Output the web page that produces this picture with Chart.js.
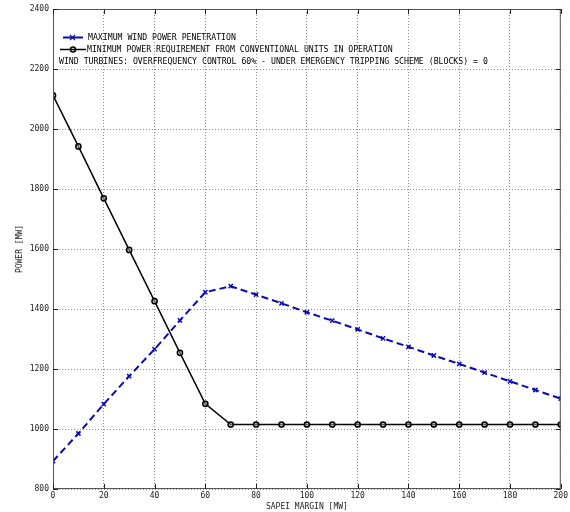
<!DOCTYPE html>
<html>
<head>
<meta charset="utf-8">
<script src="https://cdn.jsdelivr.net/npm/chart.js@4"></script>
<style>
  html, body { margin: 0; padding: 0; background: #fff; }
  #wrap { width: 570px; height: 512px; }
</style>
</head>
<body>
<div id="wrap"><canvas id="windChart" width="570" height="512"></canvas></div>
<script>
// SAPEI margin [MW]
const sapeiMargin = [0, 10, 20, 30, 40, 50, 60, 70, 80, 90, 100, 110, 120, 130, 140, 150, 160, 170, 180, 190, 200]
// power [MW]
const maxWindPower = [893, 985, 1083, 1176, 1266, 1362, 1456, 1476, 1448, 1419, 1389, 1361, 1332, 1302, 1274, 1245, 1217, 1188, 1159, 1130, 1101]
const minConvPower = [2112, 1942, 1769, 1597, 1426, 1254, 1084, 1015, 1015, 1015, 1015, 1015, 1015, 1015, 1015, 1015, 1015, 1015, 1015, 1015, 1015]
const xTicks = [0, 20, 40, 60, 80, 100, 120, 140, 160, 180, 200]
const yTicks = [800, 1000, 1200, 1400, 1600, 1800, 2000, 2200, 2400]

const legendLabels = ['MAXIMUM WIND POWER PENETRATION',
    'MINIMUM POWER REQUIREMENT FROM CONVENTIONAL UNITS IN OPERATION']
const noteText = 'WIND TURBINES: OVERFREQUENCY CONTROL 60% - UNDER EMERGENCY TRIPPING SCHEME (BLOCKS) = 0'

const BLUE = '#0a0ab4'
const FONT = "'DejaVu Sans Mono', monospace"

function toPoints(xs, ys) {
    return xs.map((x, i) => ({ x: x, y: ys[i] }))
}

// frame around the plot with inward tick marks, like matlab
const framePlugin = {
    id: 'frame',
    afterDraw(chart) {
        const ctx = chart.ctx
        const a = chart.chartArea
        const xs = chart.scales.x
        const ys = chart.scales.y
        ctx.save()
        ctx.strokeStyle = '#555'
        ctx.lineWidth = 1
        ctx.strokeRect(a.left + 0.5, a.top + 0.5, a.right - a.left - 1, a.bottom - a.top - 1)
        ctx.strokeStyle = '#222'
        ctx.beginPath()
        xTicks.forEach(v => {
            const px = Math.round(xs.getPixelForValue(v)) + 0.5
            ctx.moveTo(px, a.bottom); ctx.lineTo(px, a.bottom - 5)
            ctx.moveTo(px, a.top); ctx.lineTo(px, a.top + 5)
        })
        yTicks.forEach(v => {
            const py = Math.round(ys.getPixelForValue(v)) + 0.5
            ctx.moveTo(a.left, py); ctx.lineTo(a.left + 5, py)
            ctx.moveTo(a.right, py); ctx.lineTo(a.right - 5, py)
        })
        ctx.stroke()
        ctx.restore()
    }
}

// legend drawn inside the plot, top left
const legendPlugin = {
    id: 'innerLegend',
    afterDraw(chart) {
        const ctx = chart.ctx
        ctx.save()
        ctx.font = '8.2px ' + FONT
        ctx.textBaseline = 'middle'
        ctx.fillStyle = '#000'

        // blue entry
        ctx.strokeStyle = BLUE
        ctx.lineWidth = 2
        ctx.beginPath(); ctx.moveTo(63, 37.5); ctx.lineTo(83, 37.5); ctx.stroke()
        ctx.lineWidth = 1.2
        ctx.beginPath()
        ctx.moveTo(70, 35); ctx.lineTo(75, 40); ctx.moveTo(75, 35); ctx.lineTo(70, 40)
        ctx.stroke()
        ctx.fillText(legendLabels[0], 88, 38)

        // black entry
        ctx.strokeStyle = '#000'
        ctx.lineWidth = 1.5
        ctx.beginPath(); ctx.moveTo(60, 49.5); ctx.lineTo(86, 49.5); ctx.stroke()
        ctx.beginPath(); ctx.arc(73, 49.5, 2.5, 0, Math.PI * 2); ctx.stroke()
        ctx.fillText(legendLabels[1], 87, 50)

        ctx.fillText(noteText, 59, 62)
        ctx.restore()
    }
}

new Chart(document.getElementById('windChart'), {
    type: 'line',
    data: {
        datasets: [
            {
                label: legendLabels[0],
                data: toPoints(sapeiMargin, maxWindPower),
                borderColor: BLUE,
                backgroundColor: BLUE,
                borderWidth: 2,
                borderDash: [7, 4],
                pointStyle: 'crossRot',
                pointRadius: 3,
                pointBorderWidth: 1.5,
                pointBorderColor: BLUE,
                tension: 0
            },
            {
                label: legendLabels[1],
                data: toPoints(sapeiMargin, minConvPower),
                borderColor: '#000',
                backgroundColor: 'rgba(0,0,0,0)',
                borderWidth: 1.5,
                pointStyle: 'circle',
                pointRadius: 2.6,
                pointBorderWidth: 1.5,
                pointBorderColor: '#000',
                pointBackgroundColor: 'rgba(160,160,160,0.6)',
                tension: 0
            }
        ]
    },
    options: {
        responsive: false,
        animation: false,
        layout: { padding: { left: 0, right: 7, top: 9, bottom: 0 } },
        plugins: {
            legend: { display: false },
            tooltip: { enabled: false }
        },
        scales: {
            x: {
                type: 'linear',
                min: 0,
                max: 200,
                afterBuildTicks: s => { s.ticks = xTicks.map(v => ({ value: v })) },
                afterFit: s => { s.height = 23 },
                ticks: { font: { family: FONT, size: 8 }, color: '#222', padding: 2, maxRotation: 0,
                    callback: v => String(v) },
                grid: { color: '#8a8a8a', lineWidth: 1, drawTicks: false },
                border: { display: false, dash: [1, 2] },
                title: {
                    display: true,
                    text: 'SAPEI MARGIN [MW]',
                    font: { family: FONT, size: 8 },
                    color: '#222',
                    padding: { top: 0, bottom: 0 }
                }
            },
            y: {
                type: 'linear',
                min: 800,
                max: 2400,
                afterBuildTicks: s => { s.ticks = yTicks.map(v => ({ value: v })) },
                afterFit: s => { s.width = 53 },
                ticks: { font: { family: FONT, size: 8 }, color: '#222', padding: 4,
                    callback: v => String(v) },
                grid: { color: '#8a8a8a', lineWidth: 1, drawTicks: false },
                border: { display: false, dash: [1, 2] },
                title: {
                    display: true,
                    text: 'POWER [MW]',
                    font: { family: FONT, size: 8 },
                    color: '#222',
                    padding: { top: 15, bottom: 0 }
                }
            }
        }
    },
    plugins: [framePlugin, legendPlugin]
});
</script>
</body>
</html>
